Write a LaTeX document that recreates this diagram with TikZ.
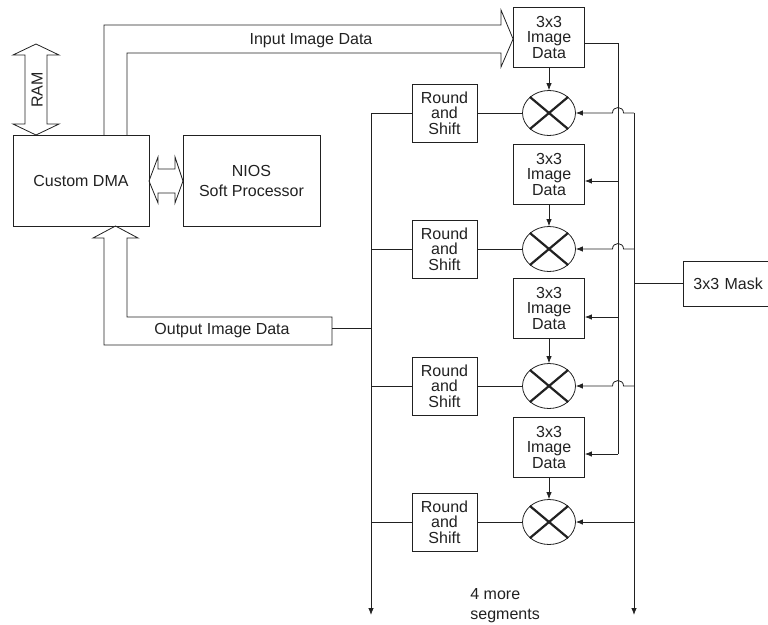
\documentclass[tikz,border=0pt]{standalone}
\usepackage{fontspec}
\setmainfont{Liberation Sans}
\usetikzlibrary{arrows.meta,shapes.geometric}
\definecolor{ink}{gray}{0.13}
\begin{document}
\begin{tikzpicture}[x=1pt,y=-1pt, line width=0.8pt, color=ink,
  every node/.style={font=\fontsize{16}{15.5}\selectfont, text=ink},
  box/.style={draw=ink, rectangle, inner sep=0pt, align=center},
  imgbox/.style={box, minimum width=71pt, minimum height=60pt},
  rsbox/.style={box, minimum width=65pt, minimum height=58pt},
  mult/.style={draw=ink, ellipse, minimum width=53pt, minimum height=45pt, inner sep=0pt},
  arr/.style={-{Latex[length=7pt,width=5.5pt]}},
  xline/.style={line width=2.2pt},
  fat/.style={line join=miter}]
\useasboundingbox (0,0) rectangle (768,624);

% main boxes
\node[box, minimum width=136pt, minimum height=91pt] (dma) at (81,180.5) {Custom DMA};
\node[box, minimum width=137pt, minimum height=91pt] (nios) at (251.5,180.5) {NIOS\\[4.5pt]Soft Processor};

% segments
\foreach \i/\yi/\ym in {1/37/113, 2/174/249, 3/308/386, 4/447/522}{
  \node[imgbox] (img\i) at (549,\yi) {3x3\\Image\\Data};
  \node[mult] (m\i) at (549,\ym) {};
  \node[rsbox] (rs\i) at (444.5,\ym) {Round\\and\\Shift};
  \draw[xline] (m\i.40) -- (m\i.220);
  \draw[xline] (m\i.140) -- (m\i.320);
  \draw[arr] (img\i.south) -- (m\i.north);
  \draw (m\i.west) -- (rs\i.east);
  \draw (rs\i.west) -- (371,\ym);
}

% mask
\node[box, anchor=west, align=left, text width=80pt, inner xsep=10pt, minimum height=45pt] (mask) at (683,283.5) {3x3 Mask};
\coordinate (maskbus) at (634,283.5);
\draw (mask.west) -- (maskbus);

% buses
\coordinate (lbusTop) at (371,113);
\coordinate (lbusEnd) at (371,615);
\draw[arr] (lbusTop) -- (lbusEnd);
\coordinate (mbusTop) at (634,113);
\coordinate (mbusEnd) at (634,615);
\draw[arr] (mbusTop) -- (mbusEnd);

% image data bus
\coordinate (ibusTop) at (618,43);
\coordinate (ibusBot) at (618,454);
\draw ([yshift=-6pt]img1.east) -- (ibusTop) -- (ibusBot);
\draw[arr] (ibusBot) -- ([yshift=-7pt]img4.east);
\draw[arr] (618,181) -- ([yshift=-7pt]img2.east);
\draw[arr] (618,317) -- ([yshift=-9pt]img3.east);

% mask lines with hops
\foreach \i/\ym in {1/113, 2/249, 3/386}{
  \draw[arr] (634,\ym) -- (623.5,\ym) .. controls (623.5,\ym-7.3) and (612.5,\ym-7.3) .. (612.5,\ym) -- (m\i.east);
}
\draw[arr] (634,522) -- (m4.east);

% fat arrow: input image data
\draw[fat] (104,135) -- (104,25) -- (501,25) -- (501,10) -- (img1.west |- 0,39) -- (501,67) -- (501,53) -- (127,53) -- (127,135);
\node (inlbl) at (311,41) {Input Image Data};

% fat arrow: output image data
\draw[fat] (332,317) -- (127,317) -- (127,238) -- (138,238) -- (115.5,226) -- (93,238) -- (104,238) -- (104,345) -- (332,345) -- cycle;
\node (outlbl) at (222,331) {Output Image Data};
\draw (332,328) -- (371,328);

% RAM double arrow
\draw[fat] (25,55) -- (25,124) -- (13,124) -- (36,135) -- (59,124) -- (47,124) -- (47,55) -- (59,55) -- (36,44) -- (13,55) -- cycle;
\node[rotate=90] (ramlbl) at (37,90) {RAM};

% DMA <-> NIOS double arrow
\draw[fat] (158,169) -- (175,169) -- (175,157) -- (183,181) -- (175,203) -- (175,193) -- (158,193) -- (158,203) -- (149,181) -- (158,157) -- cycle;

% more segments
\node[anchor=west, align=left, inner sep=0pt, font=\fontsize{16}{20}\selectfont] (more) at (470,606) {4 more\\segments};
\end{tikzpicture}
\end{document}
